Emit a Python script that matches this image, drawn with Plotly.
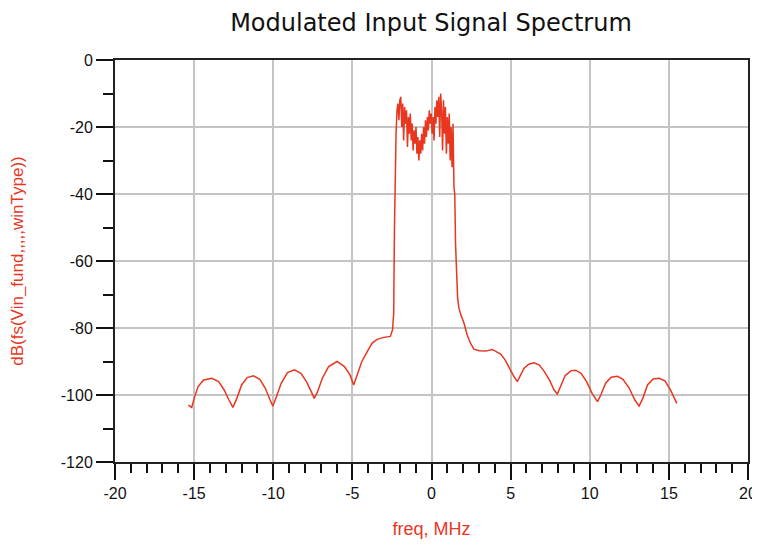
import plotly.graph_objects as go

# Spectrum data: frequency in MHz, level in dB
freq_mhz = [
    -15.36, -15.15, -15.0, -14.75, -14.4, -13.88, -13.45, -13.1, -12.8, -12.55,
    -12.3, -12.0, -11.65, -11.25, -10.85, -10.5, -10.2, -10.02, -9.8, -9.5,
    -9.1, -8.67, -8.25, -7.9, -7.6, -7.41, -7.2, -6.9, -6.5, -5.97,
    -5.5, -5.15, -4.92, -4.7, -4.4, -4.07, -3.75, -3.44, -3.0, -2.6,
    -2.46, -2.41, -2.39, -2.34, -2.30, -2.24, -2.18, -2.12, -2.06, -2.00,
    -1.94, -1.88, -1.82, -1.76, -1.70, -1.64, -1.58, -1.52, -1.46, -1.40,
    -1.34, -1.28, -1.22, -1.16, -1.10, -1.04, -0.98, -0.92, -0.86, -0.80,
    -0.74, -0.68, -0.62, -0.56, -0.50, -0.44, -0.38, -0.32, -0.26, -0.20,
    -0.14, -0.08, -0.02, 0.04, 0.10, 0.16, 0.22, 0.28, 0.34, 0.40,
    0.46, 0.52, 0.58, 0.64, 0.70, 0.76, 0.82, 0.88, 0.94, 1.00,
    1.06, 1.12, 1.18, 1.24, 1.30, 1.36, 1.42, 1.47, 1.52, 1.57,
    1.65, 1.73, 1.85, 2.05, 2.25, 2.47, 2.68, 3.0, 3.42, 3.84,
    4.1, 4.37, 4.65, 4.9, 5.15, 5.42, 5.6, 5.85, 6.15, 6.48,
    6.8, 7.1, 7.45, 7.75, 7.95, 8.15, 8.45, 8.8, 9.11, 9.45,
    9.8, 10.15, 10.49, 10.7, 11.0, 11.35, 11.75, 12.1, 12.5, 12.85,
    13.12, 13.35, 13.65, 14.0, 14.39, 14.75, 15.1, 15.35, 15.5,
]
level_db = [
    -103.0, -103.7, -101.0, -97.5, -95.5, -95.0, -96.0, -98.5, -101.5, -103.7,
    -101.0, -97.0, -94.8, -94.3, -95.3, -98.0, -101.5, -103.3, -100.5, -96.5,
    -93.3, -92.5, -93.5, -96.0, -99.0, -101.0, -99.0, -95.0, -91.5, -90.0,
    -91.5, -94.0, -97.0, -94.0, -90.0, -87.1, -84.5, -83.4, -82.8, -82.5,
    -80.5, -77.0, -76.0, -50.0, -36.0, -22.0, -15.0, -13.0, -18.0, -12.0,
    -11.0, -20.0, -13.0, -24.0, -14.0, -19.0, -15.0, -26.0, -17.0, -22.0,
    -16.0, -24.0, -19.0, -27.0, -21.0, -25.0, -20.0, -28.0, -23.0, -30.0,
    -24.0, -28.0, -22.0, -27.0, -20.0, -25.0, -18.0, -23.0, -17.0, -21.0,
    -15.0, -19.0, -16.0, -22.0, -17.0, -24.0, -14.0, -19.0, -12.0, -17.0,
    -11.0, -23.0, -10.0, -15.0, -27.0, -12.0, -22.0, -14.0, -28.0, -17.0,
    -25.0, -16.0, -30.0, -20.0, -32.0, -19.0, -38.0, -40.0, -55.0, -63.0,
    -71.0, -74.0, -76.0, -78.5, -82.0, -84.6, -86.3, -86.8, -86.9, -86.4,
    -87.0, -87.8, -89.5, -91.8, -94.0, -96.0, -94.5, -92.0, -90.8, -90.4,
    -91.0, -92.8, -95.5, -98.5, -99.7, -97.5, -94.2, -92.8, -92.6, -93.5,
    -96.0, -99.5, -102.0, -100.0, -96.5, -94.7, -94.4, -95.3, -98.0, -101.5,
    -103.3, -101.0, -97.0, -95.2, -95.0, -95.8, -98.5, -101.0, -102.5,
]

x_ticks = [-20, -15, -10, -5, 0, 5, 10, 15, 20]
x_tick_text = ["-20", "-15", "-10", "-5", "0", "5", "10", "15", "20"]
y_ticks = [0, -20, -40, -60, -80, -100, -120]
y_tick_text = ["0", "-20", "-40", "-60", "-80", "-100", "-120"]

RED = "#e8361f"
FONT = "Liberation Sans, Arial, sans-serif"

# The page body adds an 8px offset, so the figure is 8px smaller than the window.
W, H = 752, 540

fig = go.Figure()
fig.add_trace(go.Scatter(
    x=freq_mhz, y=level_db, mode="lines",
    line=dict(color=RED, width=1.5),
    hoverinfo="skip", showlegend=False,
))

fig.update_layout(
    width=W, height=H,
    margin=dict(l=107, r=12, t=52, b=86),
    paper_bgcolor="white", plot_bgcolor="white",
    title=dict(text="Modulated Input Signal Spectrum",
               font=dict(family="DejaVu Sans, sans-serif", size=24, color="#111111"),
               x=423 / W, xanchor="center",
               y=1 - 15 / H, yanchor="middle"),
    font=dict(family=FONT, size=16, color="black"),
)

fig.update_xaxes(
    range=[-20, 20], tickvals=x_ticks, ticktext=x_tick_text,
    ticks="outside", ticklen=16, tickwidth=2, tickcolor="#111111",
    showline=True, linecolor="#222222", linewidth=2, mirror=True,
    showgrid=True, gridcolor="#c4c4c4", gridwidth=2,
    zeroline=False, automargin=False,
    tickfont=dict(family=FONT, size=16, color="#111111"),
    minor=dict(dtick=1, tick0=0, ticks="outside", ticklen=9, tickwidth=2,
               tickcolor="#111111", showgrid=False),
    title=dict(text="freq, MHz", font=dict(family=FONT, size=18, color=RED),
               standoff=21),
)
fig.update_yaxes(
    range=[-120, 0], tickvals=y_ticks, ticktext=y_tick_text,
    ticks="outside", ticklen=17, tickwidth=2, tickcolor="#111111",
    showline=True, linecolor="#222222", linewidth=2, mirror=True,
    showgrid=True, gridcolor="#c4c4c4", gridwidth=2,
    zeroline=False, automargin=False,
    tickfont=dict(family=FONT, size=16, color="#111111"),
    minor=dict(dtick=10, tick0=0, ticks="outside", ticklen=10, tickwidth=2,
               tickcolor="#111111", showgrid=False),
    title=dict(text="dB(fs(Vin_fund,,,,,winType))",
               font=dict(family=FONT, size=17, color=RED), standoff=35),
)

fig.write_html("out.html")
